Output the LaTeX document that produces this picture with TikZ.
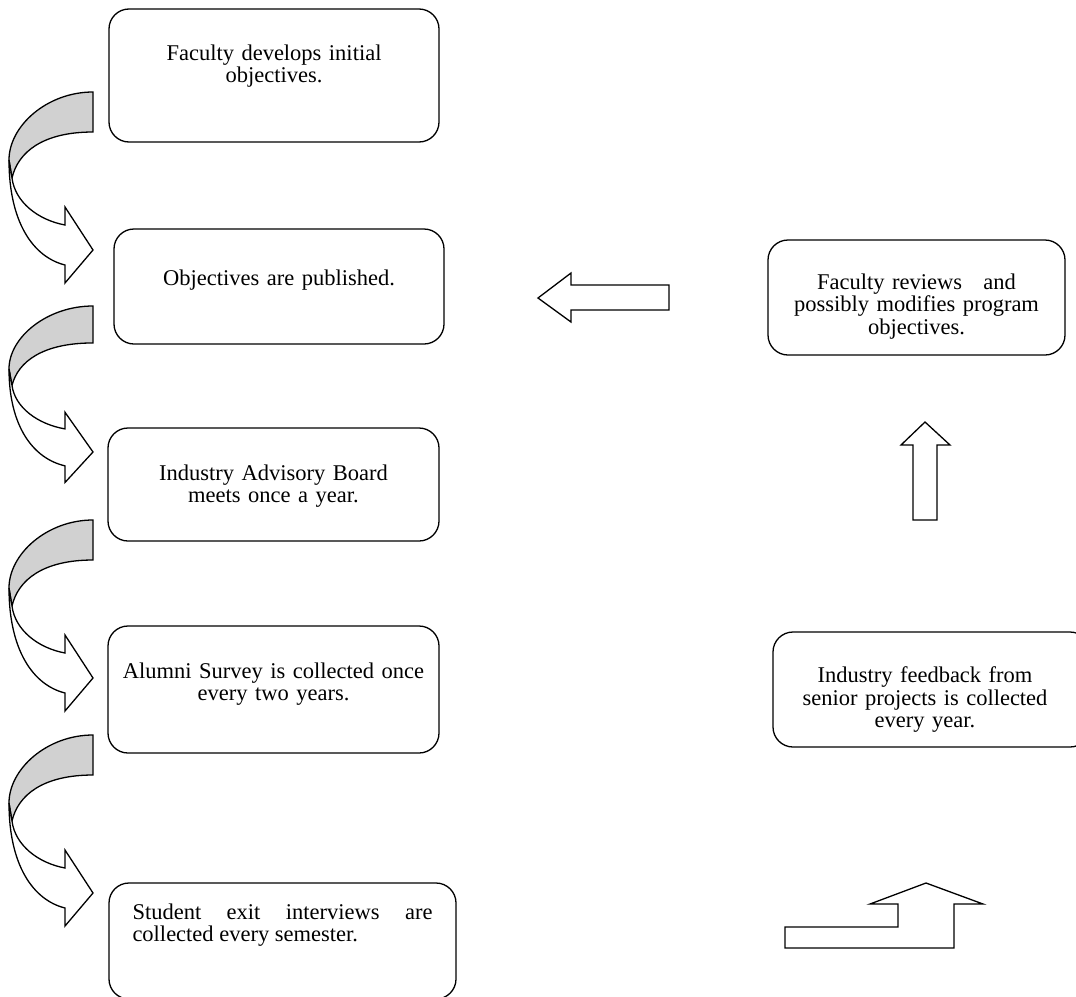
\documentclass[tikz,border=0pt]{standalone}
\usepackage{fontspec}
\setmainfont{Liberation Serif}
\usetikzlibrary{positioning}
\tikzset{
  stagebox/.style={draw, line width=1.3pt, rounded corners=20pt, inner sep=0pt},
  stagetext/.style={inner sep=0pt, anchor=north, align=center, font=\fontsize{22.5}{22.5}\selectfont},
  blockarrow/.style={draw, line width=1.3pt, fill=white, line join=miter},
  bandback/.style={draw, line width=1.3pt, fill=black!18},
  bandfront/.style={draw, line width=1.3pt, fill=white, line join=miter}
}

\begin{document}
\begin{tikzpicture}[x=1pt, y=-1pt]
\clip (0,0) rectangle (1076,996);
% left column
\node[stagebox, minimum width=330pt, minimum height=133pt] (develop) at (274,75.5) {};
\node[stagebox, minimum width=330pt, minimum height=115pt] (publish) at (279,286.5) {};
\node[stagebox, minimum width=331pt, minimum height=113pt] (board) at (273.5,484.5) {};
\node[stagebox, minimum width=331pt, minimum height=127pt] (alumni) at (273.5,689.5) {};
\node[stagebox, minimum width=347pt, minimum height=116pt] (exit) at (282.5,941) {};
\node[stagetext, text width=310pt] (developtext) at (274,44.6) {Faculty develops initial\\ objectives.};
\node[stagetext, text width=310pt] (publishtext) at (279,269.6) {Objectives are published.};
\node[stagetext, text width=310pt] (boardtext) at (273.5,464.6) {Industry Advisory Board\\ meets once a year.};
\node[stagetext, text width=310pt] (alumnitext) at (273.5,662.6) {Alumni Survey is collected once\\ every two years.};
\node[stagetext, text width=300pt, align=justify] (exittext) at (282.5,903.6) {Student exit interviews are \mbox{collected} every semester.};
% right column
\node[stagebox, minimum width=297pt, minimum height=115pt] (review) at (916.5,297.5) {};
\node[stagebox, minimum width=317pt, minimum height=115pt] (feedback) at (931.5,689.5) {};
\node[stagetext, text width=290pt] (reviewtext) at (916.5,273.6) {Faculty reviews\hspace{14pt} and\\ possibly modifies program\\ objectives.};
\node[stagetext, text width=300pt] (feedbacktext) at (925,666.6) {Industry feedback from\\ senior projects is collected\\ every year.};
% curved arrows down the left side
\foreach \yy/\sc in {92/1, 306/0.924, 520/1, 735/1}
{
\begin{scope}[shift={(93,\yy)}, yscale=\sc]
\draw[bandback] (0,0) .. controls (-46,0) and (-84,34) .. (-84,68) -- (-81,86) .. controls (-75,60) and (-50,40) .. (0,40) -- cycle;
\draw[bandfront] (-84,68) .. controls (-84,130) and (-60,165) .. (-28,173) -- (-28,191) -- (0,158) -- (-28,115) -- (-28,133) .. controls (-55,128) and (-78,110) .. (-81,86) -- cycle;
\end{scope}
}
% block arrows
\draw[blockarrow] (669,285) -- (571,285) -- (571,273) -- (538,298) -- (571,322) -- (571,310) -- (669,310) -- cycle;
\draw[blockarrow] (913,520) -- (913,445) -- (901,445) -- (925,422) -- (950,445) -- (937,445) -- (937,520) -- cycle;
\draw[blockarrow] (785,927) -- (898,927) -- (898,904) -- (870,904) -- (926,883) -- (983,904) -- (954,904) -- (954,948) -- (785,948) -- cycle;
\end{tikzpicture}
\end{document}
